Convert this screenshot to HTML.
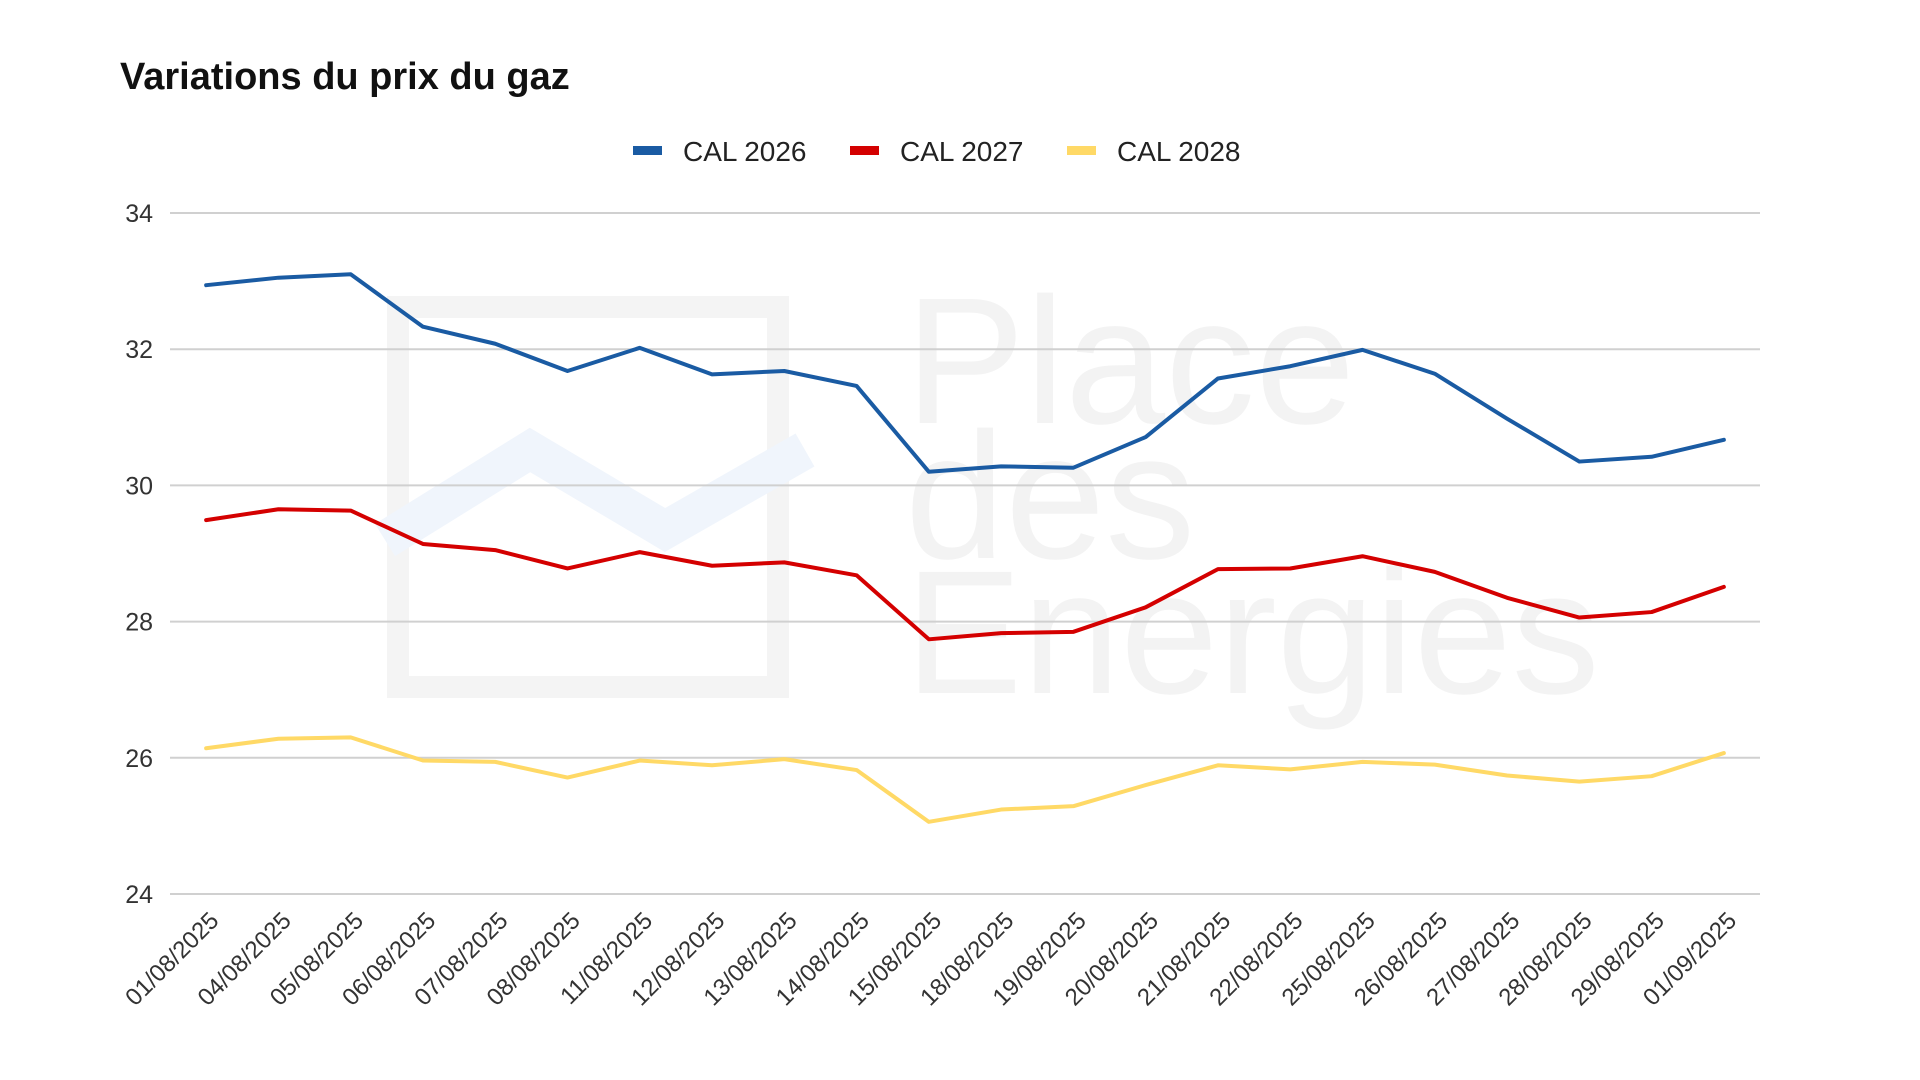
<!DOCTYPE html>
<html><head><meta charset="utf-8"><style>
html,body{margin:0;padding:0;background:#fff;}
svg{display:block;font-family:"Liberation Sans",Arial,sans-serif;}
</style></head><body>
<svg id="chart" width="1920" height="1080" viewBox="0 0 1920 1080">
<g>
<rect x="398" y="307" width="380" height="380" fill="none" stroke="#f4f4f4" stroke-width="22"/>
<polyline points="385,540 530,450 665,530 805,450" fill="none" stroke="#f0f5fc" stroke-width="38"/>
<text x="905" y="423" font-size="180" fill="#f3f3f3">Place</text>
<text x="905" y="558" font-size="180" fill="#f3f3f3">des</text>
<text x="905" y="693" font-size="176" fill="#f3f3f3">Energies</text>
</g>
<text x="120" y="89" font-size="38" font-weight="bold" fill="#111">Variations du prix du gaz</text>
<g>
<g><rect x="633" y="146" width="29" height="9" fill="#1a5ba3"/><text x="683" y="161" font-size="28" fill="#222">CAL 2026</text></g>
<g><rect x="850" y="146" width="29" height="9" fill="#d40000"/><text x="900" y="161" font-size="28" fill="#222">CAL 2027</text></g>
<g><rect x="1067" y="146" width="29" height="9" fill="#ffd966"/><text x="1117" y="161" font-size="28" fill="#222">CAL 2028</text></g>
</g>
<g id="grid"></g><g id="ylabels"></g><g id="xlabels"></g><g id="series"></g>
</svg>
<script>
const categories = ["01/08/2025","04/08/2025","05/08/2025","06/08/2025","07/08/2025","08/08/2025","11/08/2025","12/08/2025","13/08/2025","14/08/2025","15/08/2025","18/08/2025","19/08/2025","20/08/2025","21/08/2025","22/08/2025","25/08/2025","26/08/2025","27/08/2025","28/08/2025","29/08/2025","01/09/2025"];
const cal2026 = [32.94,33.05,33.1,32.33,32.08,31.68,32.02,31.63,31.68,31.46,30.2,30.28,30.26,30.71,31.57,31.75,31.99,31.64,30.98,30.35,30.42,30.67];
const cal2027 = [29.49,29.65,29.63,29.14,29.05,28.78,29.02,28.82,28.87,28.68,27.74,27.83,27.85,28.21,28.77,28.78,28.96,28.73,28.35,28.06,28.14,28.51];
const cal2028 = [26.14,26.28,26.3,25.96,25.94,25.71,25.96,25.89,25.98,25.82,25.06,25.24,25.29,25.6,25.89,25.83,25.94,25.9,25.74,25.65,25.73,26.07];
const yTicks = [24,26,28,30,32,34];

const NS="http://www.w3.org/2000/svg";
const plotLeft=170,plotRight=1760,plotTop=213,plotBottom=894,yMin=24,yMax=34;
const band=(plotRight-plotLeft)/categories.length;
const xs=i=>plotLeft+band/2+i*band;
const ys=v=>plotBottom-(v-yMin)/(yMax-yMin)*(plotBottom-plotTop);
function mk(tag,attrs,parent){const e=document.createElementNS(NS,tag);for(const k in attrs)e.setAttribute(k,attrs[k]);parent.appendChild(e);return e;}
const grid=document.getElementById('grid'),yl=document.getElementById('ylabels'),xl=document.getElementById('xlabels'),sg=document.getElementById('series');
yTicks.forEach(t=>{
  const l=mk('line',{x1:plotLeft,x2:plotRight,y1:ys(t),y2:ys(t),stroke:'#d0d0d0','stroke-width':2},grid);
  
  
  const tx=mk('text',{x:153,y:ys(t)+9,'text-anchor':'end','font-size':25,fill:'#333'},yl);
  tx.textContent=t;
  
  
});
categories.forEach((c,i)=>{
  const x=xs(i)+14,y=922;
  const tx=mk('text',{x:x,y:y,'text-anchor':'end','font-size':24,fill:'#333',transform:'rotate(-45 '+x+' '+y+')'},xl);
  tx.textContent=c;
  
  
});
[[cal2026,'#1a5ba3','cal-2026'],[cal2027,'#d40000','cal-2027'],[cal2028,'#ffd966','cal-2028']].forEach(([d,col,n])=>{
  const p=mk('polyline',{points:d.map((v,i)=>xs(i)+','+ys(v)).join(' '),fill:'none',stroke:col,'stroke-width':4,'stroke-linejoin':'round','stroke-linecap':'round'},sg);
  
  
});
</script>
</body></html>
